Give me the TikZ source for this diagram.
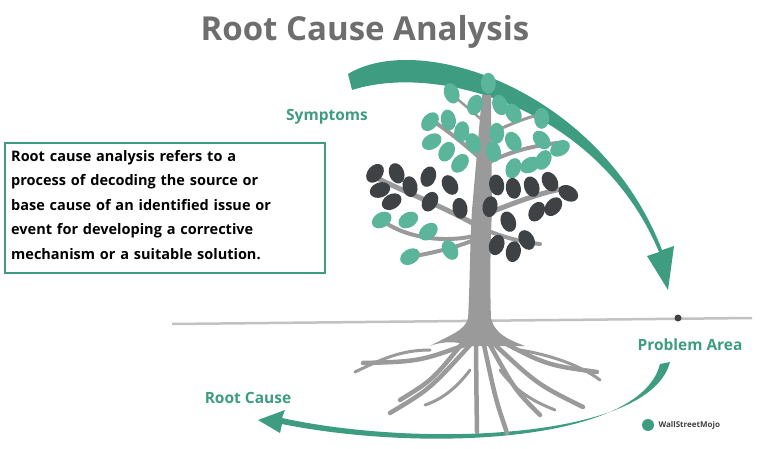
\documentclass[tikz,border=0pt]{standalone}
\usepackage{fontspec}
\usetikzlibrary{calc}
\setmainfont{Open Sans}
\definecolor{teal1}{HTML}{3E9C80}
\definecolor{leafg}{HTML}{5BB59A}
\definecolor{leafd}{HTML}{3F4244}
\definecolor{treeg}{HTML}{9A9A9A}
\begin{document}
\begin{tikzpicture}[x=1pt,y=-1pt,
  lbl/.style={text=teal1,font=\bfseries\fontsize{15.5}{18}\selectfont},
  lg/.style={fill=leafg,draw=none},
  ld/.style={fill=leafd,draw=none},
  br/.style={draw=treeg,line cap=round}]
\useasboundingbox (0,0) rectangle (778,449);
\node (title) at (365,32) {\bfseries\fontsize{33}{38}\selectfont\color[HTML]{6E6E6E}Root Cause Analysis};
\draw[teal1,line width=1.5pt] (5,143) rectangle (325,273);
\node[anchor=north west,align=left,font=\bfseries\fontsize{14.5}{24.5}\selectfont,text width=315pt,inner sep=0] (txt) at (11,150)
{Root cause analysis refers to a\\process of decoding the source or\\base cause of an identified issue or\\event for developing a corrective\\mechanism or a suitable solution.};
\node[lbl] (sym) at (327,117) {Symptoms};
\node[lbl] (prob) at (690,345) {Problem Area};
\node[lbl] (rc) at (248,398) {Root Cause};
% ground
\draw[treeg!60,line width=2.5pt] (172,324) -- (752,318);
\fill[leafd] (678,318) circle (3.5);
% top arrow
\fill[teal1] (348,74) .. controls (420,30) and (600,90) .. (662,250)
  -- (674,246) -- (668,290) -- (647,256) -- (659,252)
  .. controls (600,110) and (440,62) .. (352,90) -- cycle;
% bottom arrow
\fill[teal1] (670,362) .. controls (650,440) and (420,448) .. (282,418)
  -- (285,410) -- (258,420) -- (280,433) -- (282,424)
  .. controls (420,452) and (640,444) .. (660,364) -- cycle;
% roots
\fill[treeg] (468,318) -- (491,318) .. controls (495,335) and (510,340) .. (525,346) -- (470,346) .. controls (455,340) and (440,342) .. (430,346) .. controls (450,335) and (466,330) .. (468,318);
\foreach \a/\b/\c/\d in {
 478/340/363/363, 470/345/390/413, 476/345/477/432, 484/345/507/433,
 492/342/583/407, 495/338/597/372, 465/340/400/400, 490/345/540/415}{
 \draw[br,line width=4.5pt] (\a,\b) .. controls ($(\a,\b)!0.5!(\c,\d)+(0,10)$) .. (\c,\d);}
\draw[br,line width=3pt] (430,350) .. controls (400,350) and (380,360) .. (355,372);
\draw[br,line width=3pt] (520,350) .. controls (550,355) and (580,365) .. (600,380);
\draw[br,line width=3pt] (470,370) .. controls (455,390) and (440,400) .. (425,405);
\draw[br,line width=3pt] (500,370) .. controls (515,390) and (530,400) .. (555,410);
% trunk
\fill[treeg] (468,320) .. controls (470,280) and (470,240) .. (472,210) -- (482,95) -- (491,95) -- (492,210) .. controls (490,250) and (490,290) .. (491,320) -- cycle;
% branches
\draw[br,line width=5pt] (476,225) .. controls (440,205) and (400,190) .. (377,178);
\draw[br,line width=4pt] (474,240) .. controls (450,250) and (420,255) .. (405,258);
\draw[br,line width=4pt] (478,235) .. controls (440,245) and (400,235) .. (382,220);
\draw[br,line width=5pt] (484,215) .. controls (520,200) and (550,190) .. (568,188);
\draw[br,line width=4pt] (486,230) .. controls (510,240) and (530,243) .. (540,244);
\draw[br,line width=4pt] (482,160) .. controls (460,140) and (440,125) .. (428,118);
\draw[br,line width=4pt] (484,165) .. controls (510,150) and (540,145) .. (557,143);
\draw[br,line width=3pt] (485,135) .. controls (510,125) and (530,115) .. (543,115);
\draw[br,line width=2.5pt] (482,120) -- (455,97);
% leaves
\foreach \x/\y/\r in {305/70/20,375/105/-20,415/40/0,450/105/20,490/130/30,240/155/-40,295/150/10,335/185/-10,370/220/20,245/215/-60,290/245/-30,330/280/-40,440/190/0,490/215/30,430/245/10,575/145/0,575/210/40,630/235/-60,580/270/-30,540/285/-60,490/295/-20,95/450/-60,175/450/-60,235/485/-50,180/560/-60,300/540/30}
  \fill[lg,rotate around={\r:(350+\x/3,70+\y/3)}] (350+\x/3,70+\y/3) ellipse (7.5 and 10.5);
\foreach \x/\y/\r in {75/310/-40,140/310/20,90/360/-70,125/395/-60,180/350/10,235/320/-20,240/395/-30,300/345/30,330/415/10,440/345/10,490/355/10,545/350/20,600/335/30,655/370/60,420/410/-10,475/455/20,560/425/-30,610/410/-40,440/525/-20,490/545/-10,530/510/30}
  \fill[ld,rotate around={\r:(350+\x/3,70+\y/3)}] (350+\x/3,70+\y/3) ellipse (7.5 and 10.5);
% logo
\fill[teal1] (648,425) circle (6);
\node[anchor=west,font=\bfseries\fontsize{8}{9}\selectfont,text=leafd] (logo) at (655,425) {WallStreetMojo};
\end{tikzpicture}
\end{document}
